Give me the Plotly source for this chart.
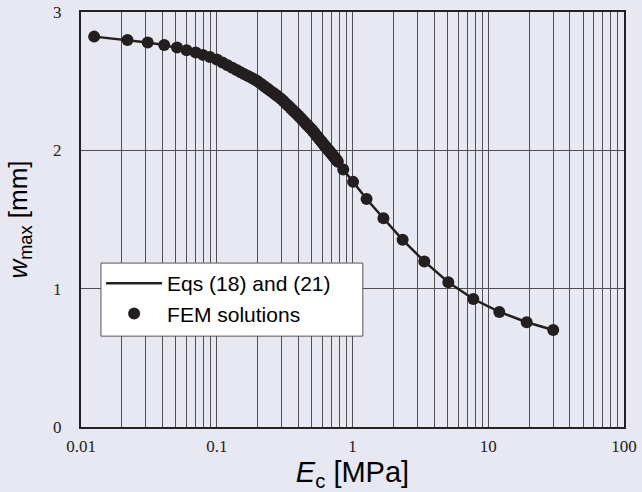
import plotly.graph_objects as go

# FEM solution points (E_c in MPa, w_max in mm)
fem_E = [0.0125, 0.022, 0.031, 0.041, 0.051, 0.060, 0.070, 0.079, 0.089,
         0.10, 0.11, 0.12, 0.13, 0.14, 0.15, 0.16, 0.17, 0.18, 0.19,
         0.20, 0.21, 0.22, 0.23, 0.24, 0.25, 0.26, 0.27, 0.28, 0.29,
         0.30, 0.31, 0.32, 0.33, 0.34, 0.35, 0.36, 0.37, 0.38, 0.39,
         0.40, 0.41, 0.42, 0.43, 0.44, 0.45, 0.46, 0.47, 0.48, 0.49,
         0.50, 0.51, 0.52, 0.53, 0.54, 0.55, 0.56, 0.57, 0.58, 0.59,
         0.60, 0.61, 0.62, 0.63, 0.64, 0.65, 0.66, 0.67, 0.68, 0.69,
         0.70, 0.71, 0.72, 0.73, 0.74, 0.75, 0.76, 0.77, 0.78,
         0.855, 1.01, 1.27, 1.69, 2.34, 3.38, 5.08, 7.76, 12.06, 19.2, 30.1]
fem_w = [2.822, 2.798, 2.779, 2.762, 2.743, 2.724, 2.707, 2.690, 2.675,
         2.656, 2.635, 2.615, 2.597, 2.580, 2.565, 2.550, 2.537, 2.524, 2.512,
         2.500, 2.484, 2.469, 2.455, 2.442, 2.428, 2.416, 2.404, 2.392, 2.381,
         2.370, 2.356, 2.343, 2.330, 2.318, 2.306, 2.294, 2.283, 2.271, 2.261,
         2.250, 2.239, 2.228, 2.218, 2.207, 2.197, 2.187, 2.178, 2.168, 2.159,
         2.150, 2.140, 2.130, 2.120, 2.110, 2.100, 2.091, 2.082, 2.073, 2.064,
         2.055, 2.046, 2.038, 2.030, 2.021, 2.013, 2.005, 1.998, 1.990, 1.983,
         1.975, 1.968, 1.960, 1.953, 1.946, 1.939, 1.932, 1.925, 1.918,
         1.862, 1.772, 1.648, 1.509, 1.353, 1.197, 1.046, 0.925, 0.832, 0.757, 0.701]

# Analytical curve (Eqs (18) and (21)) passing through the same values
eq_E = fem_E
eq_w = fem_w

x_tickvals = [0.01, 0.1, 1, 10, 100]
x_ticktext = ["0.01", "0.1", "1", "10", "100"]
y_tickvals = [0, 1, 2, 3]

INK = "#231f20"
BG = "#e8e8f2"
GRID = "#505050"

fig = go.Figure()
fig.add_trace(go.Scatter(x=eq_E, y=eq_w, mode="lines", name="Eqs (18) and (21)",
                         line=dict(color=INK, width=2.5)))
fig.add_trace(go.Scatter(x=fem_E, y=fem_w, mode="markers", name="FEM solutions",
                         marker=dict(color=INK, size=12)))

# legend box (white frame behind the legend entries)
fig.add_shape(type="rect", xref="paper", yref="paper",
              x0=0.0368, x1=0.519, y0=0.219, y1=0.395,
              fillcolor="#ffffff", line=dict(color="#555555", width=1),
              layer="above")

fig.update_layout(
    width=642, height=492,
    paper_bgcolor=BG, plot_bgcolor=BG,
    margin=dict(l=81, r=18, t=12, b=65),
    font=dict(family="Liberation Sans", color="#000000"),
    showlegend=True,
    legend=dict(x=0.037, y=0.395, xanchor="left", yanchor="top",
                bgcolor="rgba(0,0,0,0)", borderwidth=0,
                font=dict(family="Liberation Sans", size=21, color="#000000"),
                itemwidth=56, tracegroupgap=0),
)
fig.update_xaxes(
    type="log", range=[-2, 2], automargin=False,
    tickvals=x_tickvals, ticktext=x_ticktext,
    tickfont=dict(family="Liberation Serif", size=17, color="#222222"),
    ticks="", ticklabelstandoff=3,
    showgrid=True, gridcolor=GRID, gridwidth=1,
    minor=dict(dtick="D1", showgrid=True, gridcolor=GRID, gridwidth=1),
    showline=True, linecolor="#222222", linewidth=2, mirror=True,
    zeroline=False,
    title=dict(text="<i>E</i><sub>c</sub> [MPa]", standoff=15,
               font=dict(family="Liberation Sans", size=29, color="#000000")),
)
fig.update_yaxes(
    range=[0, 3], tickvals=y_tickvals, automargin=False,
    tickfont=dict(family="Liberation Serif", size=17, color="#222222"),
    ticks="", ticklabelstandoff=14,
    showgrid=True, gridcolor=GRID, gridwidth=1,
    showline=True, linecolor="#222222", linewidth=2, mirror=True,
    zeroline=False,
    title=dict(text="<i>w</i><sub>max</sub> [mm]", standoff=18,
               font=dict(family="Liberation Sans", size=26, color="#000000")),
)

fig.write_html("out.html", config={"displayModeBar": False},
               post_script="document.body.style.margin='0';")
